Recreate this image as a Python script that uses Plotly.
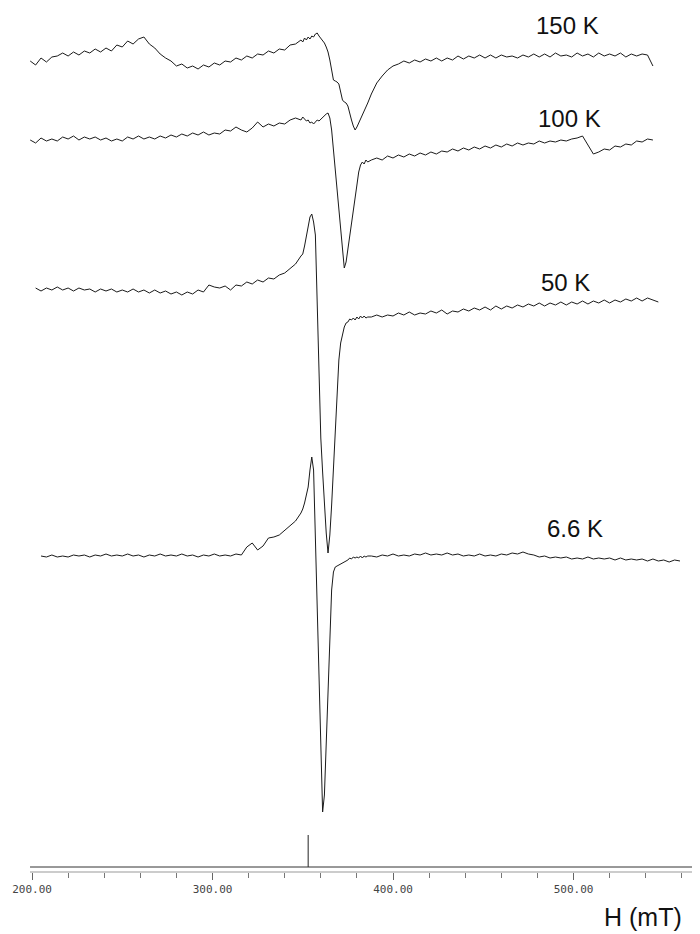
"""EPR spectra at 150 K, 100 K, 50 K and 6.6 K, stacked, field in mT."""
import plotly.graph_objects as go

# field axis shared by all spectra (mT)
FIELD = ([196, 199, 202, 205, 208, 211, 214, 217, 220, 223,
          226, 229, 232, 235, 238, 241, 244, 247, 250, 253,
          256, 259, 262, 265, 268, 271, 274, 277, 280, 283,
          286, 289, 292, 295, 298, 301, 304, 307, 310, 313,
          316, 319, 322, 325, 328, 331, 334, 337, 340, 343,
          346, 349]
         + [350, 351, 352, 353, 354, 355, 356, 357, 358, 359,
            360, 361, 362, 363, 364, 365, 366, 367, 368, 369,
            370, 371, 372, 373, 374, 375, 376, 377, 378, 379,
            380, 381, 382, 383, 384, 385, 386]
         + [388, 391, 394, 397, 400, 403, 406, 409, 412, 415,
            418, 421, 424, 427, 430, 433, 436, 439, 442, 445,
            448, 451, 454, 457, 460, 463, 466, 469, 472, 475,
            478, 481, 484, 487, 490, 493, 496, 499, 502, 505,
            508, 511, 514, 517, 520, 523, 526, 529, 532, 535,
            538, 541, 544, 547, 550, 553, 556, 559])

# stacked signal (a.u., increasing downward as drawn on the sheet)
S150 = ([None, 61, 65, 58, 62, 57, 56, 53, 56, 52,
         55, 51, 53, 49, 52, 48, 51, 45, 47, 41,
         44, 39, 37, 44, 48, 54, 58, 61, 66, 64,
         68, 66, 69, 65, 67, 63, 65, 61, 62, 58,
         60, 56, 58, 54, 55, 51, 53, 49, 50, 45,
         44, 40]
        + [42, 38, 40, 37, 39, 36, 37, 34, 33, 36,
           38, 41, 43, 47, 52, 60, 70, 80, 81, 82,
           84, 92, 100, 102, 103, 106, 114, 120, 126, 130,
           127, 123, 120, 116, 112, 107, 103]
        + [94, 83, 76, 70, 66, 64, 61, 63, 60, 62,
           59, 61, 58, 61, 58, 60, 56, 59, 56, 58,
           55, 58, 55, 58, 55, 57, 56, 58, 55, 57,
           54, 57, 54, 57, 53, 56, 55, 57, 53, 56,
           54, 57, 53, 56, 54, 56, 53, 57, 54, 56,
           54, 55, 66, None, None, None, None, None])

S100 = ([None, 140, 143, 138, 141, 139, 141, 137, 139, 136,
         140, 137, 139, 137, 140, 138, 141, 139, 141, 137,
         139, 136, 139, 137, 139, 136, 138, 135, 137, 134,
         136, 133, 135, 132, 135, 133, 134, 130, 131, 127,
         130, 132, 128, 122, 127, 124, 126, 123, 124, 120,
         118, 120]
        + [117, 119, 121, 120, 123, 122, 124, 122, 120, 121,
           119, 117, 115, 114, 113, 118, 130, 150, 172, 192,
           207, 226, 246, 268, 262, 250, 238, 225, 212, 200,
           185, 172, 165, 162, 164, 160, 162]
        + [160, 158, 160, 156, 158, 155, 157, 154, 156, 153,
           155, 152, 154, 151, 152, 149, 151, 148, 150, 147,
           149, 146, 148, 145, 147, 144, 146, 143, 145, 143,
           144, 141, 143, 141, 142, 140, 141, 139, 138, 136,
           145, 154, 152, 149, 150, 146, 147, 144, 145, 141,
           142, 139, 140, None, None, None, None, None])

S50 = ([None, None, 288, 291, 288, 290, 287, 290, 288, 291,
        288, 290, 289, 292, 289, 291, 289, 292, 290, 292,
        289, 292, 290, 293, 290, 293, 291, 294, 292, 295,
        292, 294, 290, 292, 285, 287, 288, 286, 290, 285,
        286, 282, 284, 280, 282, 278, 279, 275, 273, 268,
        264, 256]
       + [254, 246, 235, 224, 217, 214, 222, 235, 310, 380,
          438, 472, 505, 533, 553, 535, 505, 470, 440, 400,
          360, 343, 333, 327, 323, 322, 319, 320, 318, 320,
          317, 319, 316, 318, 316, 318, 317]
       + [317, 315, 317, 315, 316, 313, 315, 312, 315, 313,
          314, 311, 313, 310, 314, 311, 312, 309, 311, 308,
          310, 307, 310, 306, 309, 306, 308, 305, 307, 304,
          306, 303, 306, 303, 305, 302, 305, 302, 304, 301,
          304, 301, 303, 300, 303, 300, 302, 299, 301, 298,
          301, 298, 300, 302, None, None, None, None])

S6_6 = ([None, None, None, 556, 557, 555, 557, 556, 557, 555,
         556, 555, 557, 555, 556, 554, 556, 555, 556, 554,
         556, 555, 557, 555, 556, 554, 556, 555, 556, 554,
         556, 555, 557, 555, 556, 554, 556, 555, 556, 554,
         555, 547, 543, 550, 546, 538, 537, 535, 530, 526,
         521, 513]
        + [509, 503, 496, 487, 470, 457, 470, 540, 620, 700,
           760, 812, 795, 740, 680, 625, 590, 572, 567, 566,
           565, 564, 563, 562, 561, 560, 558, 559, 557, 558,
           557, 558, 556, 558, 556, 557, 556]
        + [556, 557, 555, 556, 554, 556, 555, 556, 554, 555,
           553, 555, 554, 555, 553, 555, 554, 556, 555, 556,
           554, 556, 555, 556, 554, 555, 553, 554, 552, 554,
           555, 557, 556, 558, 557, 558, 557, 559, 558, 559,
           557, 559, 558, 559, 558, 560, 558, 560, 559, 560,
           559, 561, 559, 561, 560, 562, 560, 561])

TEMPS = ["150 K", "100 K", "50 K", "6.6 K"]
MARKER_FIELD = 353.0

SERIES = [S150, S100, S50, S6_6]
for s in SERIES:
    assert len(s) == len(FIELD), len(s)

# label anchors (field, level) next to each spectrum
LABEL_POS = [(496.5, 25), (498.0, 118), (495.8, 282), (500.8, 528)]

# the page body adds an 8 px margin, so the figure is 8 px smaller each way
W, H = 692, 926

fig = go.Figure()
for name, s in zip(TEMPS, SERIES):
    fig.add_trace(go.Scatter(x=FIELD, y=s, mode="lines", name=name,
                             line=dict(color="#1a1a1a", width=1),
                             connectgaps=False, hoverinfo="skip"))

# field marker
fig.add_trace(go.Scatter(x=[MARKER_FIELD, MARKER_FIELD], y=[835, 867], mode="lines",
                         line=dict(color="#222", width=1), hoverinfo="skip"))

for (fx, lv), t in zip(LABEL_POS, TEMPS):
    fig.add_annotation(x=fx, y=lv, xref="x", yref="y", text=t, showarrow=False,
                       font=dict(family="Liberation Sans, Arial", size=24, color="#111"))

fig.add_annotation(x=0.918, y=-0.052, xref="paper", yref="paper", text="H (mT)",
                   showarrow=False, xanchor="center", yanchor="middle",
                   font=dict(family="Liberation Sans, Arial", size=25, color="#111"))

# baseline pair of the field axis
fig.add_shape(type="line", xref="x", yref="y", x0=198.9, x1=570.08, y0=867, y1=867,
              line=dict(color="#333", width=1))
fig.add_shape(type="line", xref="x", yref="paper", x0=198.9, x1=570.08, y0=0, y1=0,
              line=dict(color="#999", width=1))

fig.update_xaxes(range=[186.70, 570.08], showgrid=False, zeroline=False, showline=False,
                 tickmode="linear", tick0=200, dtick=100, tickformat=".2f",
                 ticks="outside", ticklen=7, tickcolor="#666", tickwidth=1,
                 tickfont=dict(family="DejaVu Sans Mono", size=11, color="#444"),
                 minor=dict(dtick=20, tick0=200, ticks="outside", ticklen=5,
                            tickcolor="#777", showgrid=False))
fig.update_yaxes(range=[872, 8], visible=False)
fig.update_layout(width=W, height=H, margin=dict(l=0, r=0, t=0, b=62),
                  plot_bgcolor="white", paper_bgcolor="white", showlegend=False)

fig.write_html("out.html")
